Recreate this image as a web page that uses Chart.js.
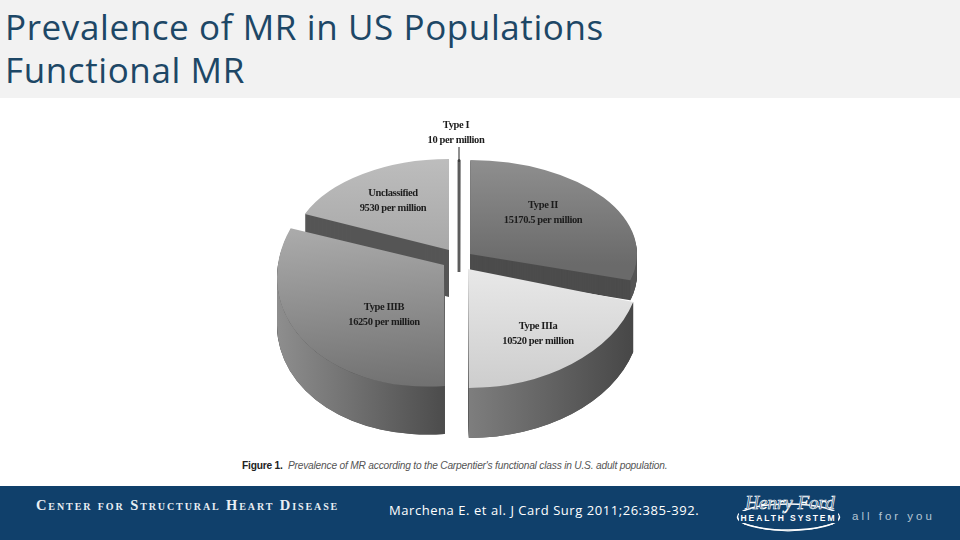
<!DOCTYPE html>
<html lang="en">
<head>
<meta charset="UTF-8" />
<title>Prevalence of MR in US Populations</title>
<script src="https://cdn.jsdelivr.net/npm/chart.js"></script>
<style>
    html, body { margin: 0; padding: 0; background: #fff; }
    #page { position: relative; width: 960px; height: 540px; overflow: hidden; }
    #header { position: absolute; left: 0; top: 0; width: 960px; height: 98px; background: #f2f2f2; }
    #title {
        position: absolute; left: 5px; top: 6px;
        font: 35px/42.5px "Open Sans", sans-serif; letter-spacing: 0.6px; color: #1d4766;
        white-space: nowrap;
    }
    #chart-box { position: absolute; left: 260px; top: 100px; width: 400px; height: 350px; }
    #chart-box canvas { filter: blur(0.7px); }
    #caption {
        position: absolute; left: 242px; top: 459px;
        font: italic 10.2px/14px "Liberation Sans", sans-serif; letter-spacing: -0.2px; color: #555;
        white-space: nowrap;
    }
    #caption b { font-style: normal; color: #222; }
    #footer { position: absolute; left: 0; top: 486px; width: 960px; height: 54px; background: #10406b; }
    #center-name {
        position: absolute; left: 36px; top: 10px;
        font: bold 14.5px/18px "Liberation Serif", serif; font-variant: small-caps;
        letter-spacing: 1.9px; color: #e8eef3; white-space: nowrap;
    }
    #citation {
        position: absolute; left: 389px; top: 15px;
        font: 13px/18px "Open Sans", sans-serif; letter-spacing: 0.55px; color: #fff; white-space: nowrap;
    }
    #tagline {
        position: absolute; left: 852px; top: 22px;
        font: 11.5px/16px "Liberation Sans", sans-serif; letter-spacing: 3px;
        color: #b4c5d4; white-space: nowrap;
    }
    #logo { position: absolute; left: 730px; top: 0; }
</style>
</head>
<body>
<div id="page">
    <div id="header"><div id="title">Prevalence of MR in US Populations<br>Functional MR</div></div>
    <div id="chart-box"><canvas id="pieChart"></canvas></div>
    <div id="caption"><b>Figure 1.</b>&nbsp; Prevalence of MR according to the Carpentier's functional class in U.S. adult population.</div>
    <div id="footer">
        <div id="center-name">Center for Structural Heart Disease</div>
        <div id="citation">Marchena E. et al. J Card Surg 2011;26:385-392.</div>
        <svg id="logo" width="120" height="54" viewBox="0 0 120 54">
            <ellipse cx="58.5" cy="31" rx="51" ry="13" fill="none" stroke="#fff" stroke-width="1.5"/>
            <path d="M14 38 Q58 52 103 38" fill="none" stroke="#fff" stroke-width="1"/>
            <rect x="9" y="25" width="99" height="12" fill="#10406b"/>
            <text x="60" y="23" text-anchor="middle" font-family="Liberation Serif" font-style="italic" font-size="19" fill="#10406b" stroke="#fff" stroke-width="0.7">Henry Ford</text>
            <text x="58.5" y="34.5" text-anchor="middle" font-family="Liberation Sans" font-weight="bold" font-size="8.5" letter-spacing="1.9" fill="#fff">HEALTH SYSTEM</text>
        </svg>
        <div id="tagline">all for you</div>
    </div>
</div>

<script>
    // values, clockwise from the top
    const categories = ['Type I', 'Type II', 'Type IIIa', 'Type IIIB', 'Unclassified'];
    const perMillion = [10, 15170.5, 10520, 16250, 9530];

    // where each tilted slice sits inside the canvas
    const centerX = [199, 210, 208, 184, 189];
    const centerY = [172, 154, 169, 165, 150];
    const radiusX = [167, 167, 172, 167, 157];
    const radiusY = [112, 94, 119, 121, 91];
    const shear = [0, 0, 0, -0.07, 0];
    const sliceDepth = [0, 20, 50, 48, 47];
    const cutColors = ['#5c5c5c', '#4c4c4c', '#555', '#555', '#565656'];
    const drawOrder = [0, 4, 1, 3, 2];

    // label centres, canvas coordinates
    const labelX = [196, 283, 278, 124, 133];
    const labelY = [25, 105, 226, 207, 93];

    const canvas = document.getElementById('pieChart');
    const g = canvas.getContext('2d');

    function vGrad(y0, y1, c0, c1) {
        const gr = g.createLinearGradient(0, y0, 0, y1);
        gr.addColorStop(0, c0);
        gr.addColorStop(1, c1);
        return gr;
    }
    function hGrad(x0, x1, c0, c1) {
        const gr = g.createLinearGradient(x0, 0, x1, 0);
        gr.addColorStop(0, c0);
        gr.addColorStop(1, c1);
        return gr;
    }

    // top faces, gradient runs in the untransformed pie space
    const topFills = [
        '#5c5c5c',
        vGrad(0, 195, '#8f8f8f', '#6a6a6a'),
        vGrad(175, 350, '#e8e8e8', '#cdcdcd'),
        vGrad(100, 350, '#adadad', '#707070'),
        vGrad(0, 175, '#bdbdbd', '#a8a8a8')
    ];
    const wallFills = [
        '#5c5c5c',
        '#555',
        hGrad(208, 373, '#7e7e7e', '#474747'),
        hGrad(17, 184, '#8e8e8e', '#4c4c4c'),
        '#565656'
    ];

    function place(ctx, i, arc) {
        ctx.translate(centerX[i], centerY[i]);
        ctx.transform(radiusX[i] / arc.outerRadius, shear[i], 0, radiusY[i] / arc.outerRadius, 0, 0);
    }

    const tiltedPie = {
        id: 'tiltedPie',
        beforeDatasetDraw(chart) {
            const ctx = chart.ctx;
            const arcs = chart.getDatasetMeta(0).data;
            drawOrder.forEach(i => {
                const arc = arcs[i];
                const ky = radiusY[i] / arc.outerRadius;
                ctx.save();
                place(ctx, i, arc);
                // cut faces: the sector pushed down pixel by pixel
                ctx.fillStyle = cutColors[i];
                for (let d = sliceDepth[i]; d > 0; d--) {
                    ctx.beginPath();
                    ctx.moveTo(0, d / ky);
                    ctx.arc(0, d / ky, arc.outerRadius, arc.startAngle, arc.endAngle);
                    ctx.closePath();
                    ctx.fill();
                }
                // rim, front half only
                const a0 = Math.max(arc.startAngle, 0);
                const a1 = Math.min(arc.endAngle, Math.PI);
                if (sliceDepth[i] > 0 && a1 > a0) {
                    ctx.beginPath();
                    ctx.arc(0, 0, arc.outerRadius, a0, a1);
                    ctx.arc(0, sliceDepth[i] / ky, arc.outerRadius, a1, a0, true);
                    ctx.closePath();
                    ctx.restore();
                    ctx.save();
                    // path stays in canvas space, gradient is in canvas px
                    ctx.fillStyle = wallFills[i];
                    ctx.fill();
                    ctx.restore();
                    ctx.save();
                    place(ctx, i, arc);
                }
                ctx.translate(-arc.x, -arc.y);
                arc.draw(ctx);
                ctx.restore();
            });
            return false;
        },
        afterDatasetsDraw(chart) {
            const ctx = chart.ctx;
            ctx.save();
            ctx.fillStyle = '#1c1c1c';
            ctx.textAlign = 'center';
            ctx.textBaseline = 'middle';
            ctx.font = 'bold 10.5px "Liberation Serif", serif';
            ctx.letterSpacing = '-0.4px';
            categories.forEach((name, i) => {
                ctx.fillText(name, labelX[i], labelY[i]);
                ctx.fillText(perMillion[i] + ' per million', labelX[i], labelY[i] + 15);
            });
            // leader from the Type I label to its slice
            ctx.strokeStyle = '#222';
            ctx.lineWidth = 1;
            ctx.beginPath();
            ctx.moveTo(199, 47);
            ctx.lineTo(199, 62);
            ctx.stroke();
            ctx.restore();
        }
    };

    new Chart(canvas, {
        type: 'pie',
        data: {
            labels: categories,
            datasets: [{
                data: perMillion,
                backgroundColor: topFills,
                borderColor: ['#5c5c5c', 'transparent', 'transparent', 'transparent', 'transparent'],
                borderWidth: [3, 0, 0, 0, 0]
            }]
        },
        options: {
            responsive: true,
            maintainAspectRatio: false,
            animation: false,
            events: [],
            layout: { padding: 0 },
            plugins: { legend: { display: false }, tooltip: { enabled: false } }
        },
        plugins: [tiltedPie]
    });
</script>
</body>
</html>
